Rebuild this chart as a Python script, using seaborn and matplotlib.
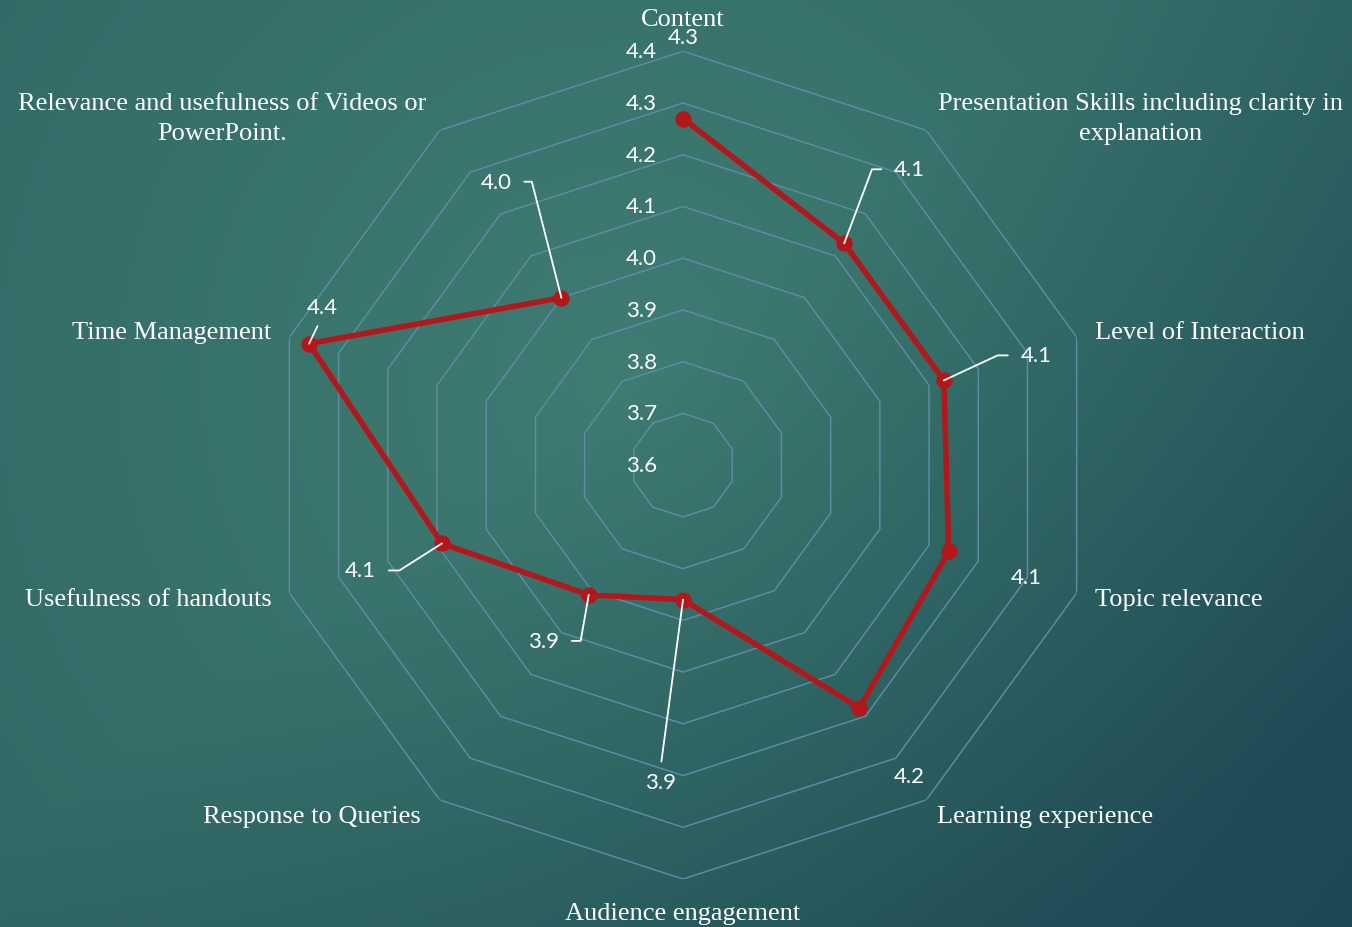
import numpy as np
import pandas as pd
import seaborn as sns
import matplotlib
matplotlib.use('Agg')
from matplotlib import pyplot as plt

sns.set_style('white')
plt.rcParams['font.family'] = ['Liberation Serif', 'DejaVu Serif']

# ---- data ----
categories = ['Content',
              'Presentation Skills including clarity in\nexplanation',
              'Level of Interaction',
              'Topic relevance',
              'Learning experience',
              'Audience engagement',
              'Response to Queries',
              'Usefulness of handouts',
              'Time Management',
              'Relevance and usefulness of Videos or\nPowerPoint.']
scores      = [4.27, 4.13, 4.13, 4.14, 4.18, 3.86, 3.91, 4.09, 4.36, 4.00]
ring_levels = [3.7, 3.8, 3.9, 4.0, 4.1, 4.2, 4.3, 4.4]
tick_labels = ['3.6', '3.7', '3.8', '3.9', '4.0', '4.1', '4.2', '4.3', '4.4']

# label placement (pixel offsets), styles only
cat_offsets = [(0, 32, 'center'), (214, 12, 'center'), (18, 5, 'left'), (18, -6, 'left'),
               (11, -16, 'left'), (0, -34, 'center'), (-19, -16, 'right'), (-18, -6, 'right'),
               (-18, 5, 'right'), (-218, 12, 'center')]
# dx, dy, ha, leader kind, angleB, relpos
val_offsets = [(0, 82, 'center', None, None, None),
               (50, 74, 'left', 'angle', 69.4, (0, 0.5)),
               (77, 25, 'left', 'angle', 24.9, (0, 0.5)),
               (78, -26, 'center', None, None, None),
               (50, -68, 'center', None, None, None),
               (-23, -182, 'center', 'line', None, (0.5, 1)),
               (-30, -46, 'right', 'angle', 80.0, (1, 0.5)),
               (-66, -27, 'right', 'angle', 32.4, (1, 0.5)),
               (13, 37, 'center', 'line', None, (0.5, 0)),
               (-50, 116, 'right', 'angle', 104.3, (1, 0.5))]

RED   = '#b2181b'
GRID  = '#5d8aa5'
NUMF  = ['Lato', 'DejaVu Sans']

n      = len(categories)
angles = np.linspace(0, 2*np.pi, n, endpoint=False)
df     = pd.DataFrame({'angle': np.append(angles, angles[0]),
                       'score': scores + scores[:1]})

fig = plt.figure(figsize=(13.52, 9.28), dpi=100)

# background gradient
W, H = 1352, 928
yy, xx = np.mgrid[0:H, 0:W]
r = np.hypot(xx-620, yy-380) / 1100
d = np.clip(((xx-620)*0.6 + (yy-380)*0.8) / 700, 0, 1)
t = np.clip(0.5*r + 0.55*d, 0, 1)[..., None]
light = np.array([0x3f, 0x7c, 0x72]) / 255
dark  = np.array([0x1b, 0x47, 0x52]) / 255
bg    = light*(1-t) + dark*t
bax = fig.add_axes([0, 0, 1, 1])
bax.imshow(bg, aspect='auto', extent=(0, 1, 0, 1))
bax.axis('off')

ax = fig.add_axes([0.199, 0.0517, 0.6124, 0.892], projection='polar')
ax.patch.set_alpha(0)
ax.set_theta_zero_location('N')
ax.set_theta_direction(-1)
ax.grid(False)
ax.spines['polar'].set_visible(False)

closed = np.append(angles, angles[0])
for lv in ring_levels:
    ax.plot(closed, [lv]*len(closed), color=GRID, lw=1.1, zorder=1)

sns.lineplot(data=df, x='angle', y='score', sort=False, ax=ax, color=RED, lw=4,
             marker='o', markersize=11, markeredgecolor=RED, zorder=3)
ax.set_xlabel(''); ax.set_ylabel('')
ax.set_xticks([]); ax.set_yticks([])
ax.set_ylim(3.6, 4.4)

# radial tick labels
for i, lab in enumerate(tick_labels):
    ax.annotate(lab, xy=(0, 3.6 + 0.1*i), xytext=(-26, 0), textcoords='offset pixels',
                ha='right', va='center', color='white', fontsize=16, family=NUMF,
                annotation_clip=False)

# category labels
for a, lab, (dx, dy, ha) in zip(angles, categories, cat_offsets):
    ax.annotate(lab, xy=(a, 4.4), xytext=(dx, dy), textcoords='offset pixels',
                ha=ha, va='center', color='white', fontsize=19, linespacing=1.45,
                annotation_clip=False)

# value labels with leader lines
for a, v, (dx, dy, ha, kind, angB, rel) in zip(angles, scores, val_offsets):
    props = None
    if kind == 'angle':
        props = dict(arrowstyle='-', color='white', lw=1.3, shrinkA=7, shrinkB=0, relpos=rel,
                     connectionstyle=f'angle,angleA=0,angleB={angB},rad=0')
    elif kind == 'line':
        props = dict(arrowstyle='-', color='white', lw=1.3, shrinkA=5, shrinkB=0, relpos=rel)
    ax.annotate(f'{v:.1f}', xy=(a, v), xytext=(dx, dy), textcoords='offset pixels',
                ha=ha, va='center', color='white', fontsize=16, family=NUMF,
                arrowprops=props, annotation_clip=False, zorder=5)

fig.savefig('out.png', dpi=100)
